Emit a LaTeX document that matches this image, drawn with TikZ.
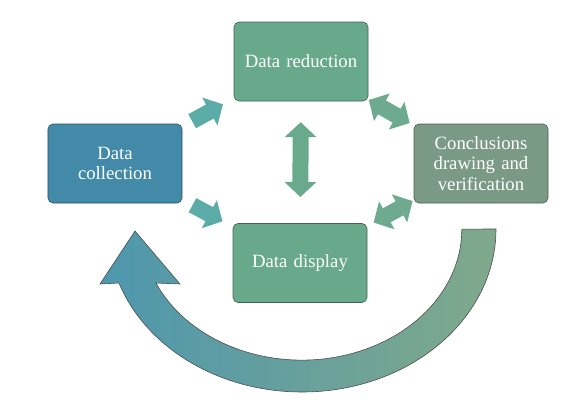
\documentclass[tikz,border=0pt]{standalone}
\usepackage{fontspec}
\setmainfont{Liberation Serif}
\usetikzlibrary{arrows.meta}
\definecolor{collblue}{HTML}{4389A8}
\definecolor{stagegreen}{HTML}{67A98A}
\definecolor{concgrey}{HTML}{7A9A85}
\definecolor{tealarrow}{HTML}{5BABA6}
\definecolor{sidearrow}{HTML}{6DAA90}
\definecolor{midarrow}{HTML}{68AA8B}
\definecolor{loopleft}{HTML}{4E97AE}
\definecolor{loopmid}{HTML}{6BB996}
\definecolor{loopright}{HTML}{80A98B}
\tikzset{
  stage/.style={rectangle, rounded corners=1.5mm, minimum width=40.2mm, minimum height=23.7mm,
    text width=37mm, align=center, text=white, line width=0.5pt,
    font=\fontsize{16}{17.5}\selectfont},
  flow/.style={line width=4.8mm, -{Triangle[length=4.5mm,width=9.3mm]}},
  twoway/.style={line width=4.8mm, {Triangle[length=4.5mm,width=9.3mm]}-{Triangle[length=4.5mm,width=9.3mm]}},
}
\begin{document}
\begin{tikzpicture}[x=0.3mm,y=-0.3mm]
\useasboundingbox (0,0) rectangle (584,406);
% the four stages
\node[stage, fill=collblue, draw=collblue!60!black] (coll) at (115,163.5) {Data\\collection};
\node[stage, fill=stagegreen, draw=stagegreen!60!black] (red) at (301,61.5) {Data reduction};
\node[stage, fill=concgrey, draw=concgrey!60!black] (conc) at (481,163.5) {Conclusions\\drawing and\\verification};
\node[stage, fill=stagegreen, draw=stagegreen!60!black] (disp) at (300,263) {Data display};
% block arrows between the stages
\draw[flow, draw=tealarrow, shorten <=26.4mm, shorten >=26.7mm] (coll.center) -- (red.center);
\draw[flow, draw=tealarrow, shorten <=26.4mm, shorten >=26.4mm] (coll.center) -- (disp.center);
\draw[twoway, draw=sidearrow, shorten <=23.4mm, shorten >=24.6mm] (red.center) -- (conc.center);
\draw[twoway, draw=sidearrow, shorten <=25.2mm, shorten >=23.4mm] (disp.center) -- (conc.center);
\draw[twoway, draw=midarrow, shorten <=18.2mm, shorten >=19.8mm] (red.center) -- (disp.center);
% big curved return arrow
\draw[draw=black!70, line width=0.5pt, left color=loopleft, middle color=loopmid, right color=loopright]
  (496,229) arc[start angle=0, end angle=160.65, x radius=58.2mm, y radius=-48.9mm]
  -- (100,284) -- (135,231) -- (180,284)
  -- (156,283) arc[start angle=155.7, end angle=0, x radius=48mm, y radius=-39.3mm] -- cycle;
\end{tikzpicture}
\end{document}
